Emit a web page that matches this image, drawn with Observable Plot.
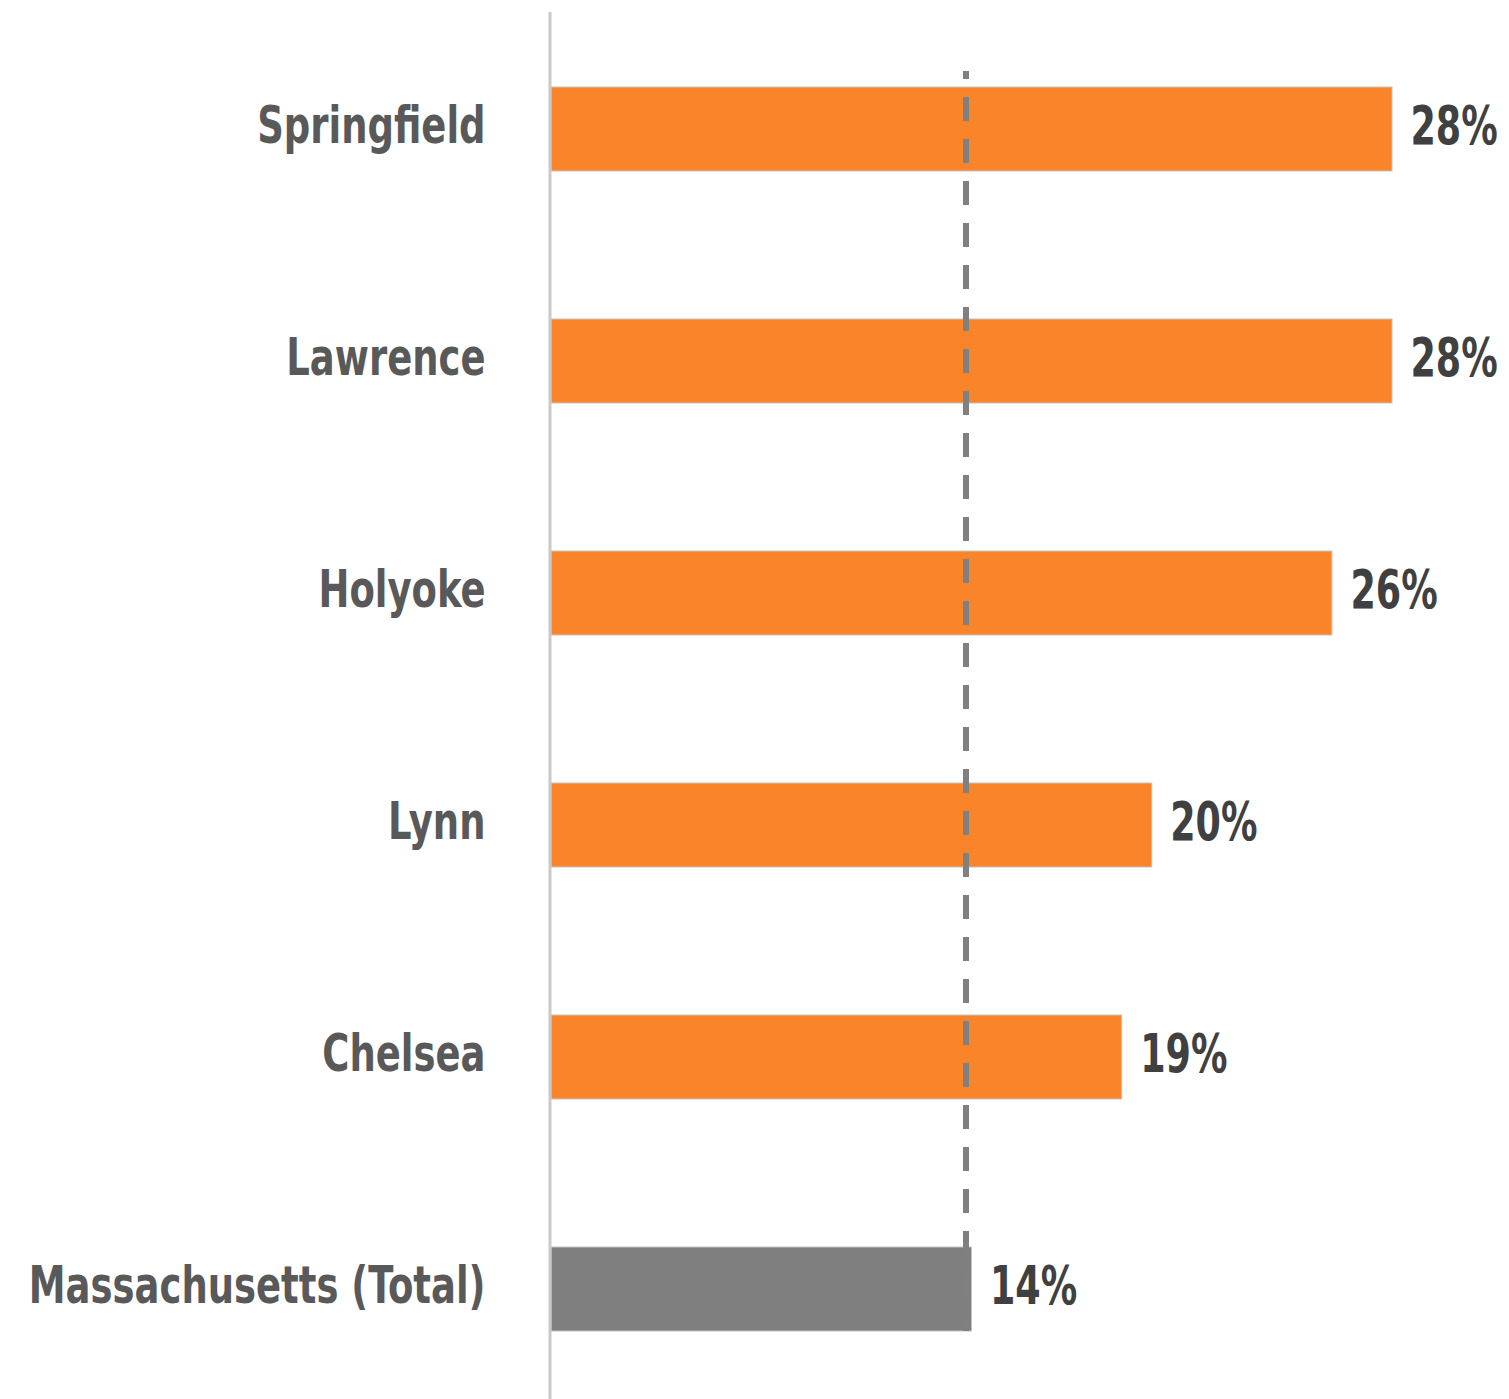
<!DOCTYPE html>
<html>
<head>
<meta charset="utf-8">
<script src="https://cdn.jsdelivr.net/npm/d3@7"></script>
<script src="https://cdn.jsdelivr.net/npm/@observablehq/plot@0.6"></script>
<style>
  html, body { margin: 0; padding: 0; background: #fff; }
  #chart svg { display: block; }
</style>
</head>
<body>
<div id="chart"></div>
<script>
const cities = ["Springfield", "Lawrence", "Holyoke", "Lynn", "Chelsea", "Massachusetts (Total)"];
const values = [28, 28, 26, 20, 19, 14];
const stateLine = [13.8];
const totalLabel = "Massachusetts (Total)";

const data = cities.map((c, i) => ({city: c, value: values[i]}));

const font = "'DejaVu Sans Condensed', 'Liberation Sans Narrow', sans-serif";

const chart = Plot.plot({
  width: 1509,
  height: 1399,
  marginLeft: 551,
  marginRight: 117,
  marginTop: 87,
  marginBottom: 68,
  style: {fontFamily: font, fontWeight: "bold", background: "#fff"},
  x: {domain: [0, 28], axis: null},
  y: {domain: cities, paddingInner: 0.638, paddingOuter: 0, label: null},
  marks: [
    Plot.barX(data, {
      x: "value",
      y: "city",
      fill: d => d.city === totalLabel ? "#7f7f7f" : "#f98429",
      stroke: "#c4c4c4",
      strokeWidth: 1
    }),
    Plot.ruleX([0], {
      stroke: "#c9c9c9",
      strokeWidth: 3,
      dx: -1.5,
      insetTop: -75,
      insetBottom: -68
    }),
    Plot.ruleX(stateLine, {
      stroke: "#808080",
      strokeWidth: 6,
      strokeDasharray: "24,18",
      strokeDashoffset: 16,
      insetTop: -16,
      insetBottom: 0
    }),
    Plot.text(data, {
      x: "value",
      y: "city",
      text: d => d.value + "%",
      textAnchor: "start",
      dx: 18,
      dy: -3,
      fontSize: 54,
      fontWeight: "bold",
      fill: "#404040",
      className: "value-label"
    }),
    Plot.axisY({
      tickSize: 0,
      tickPadding: 66,
      fontSize: 52,
      fontWeight: "bold",
      fill: "#595959",
      dy: -3,
      label: null
    })
  ]
});
document.getElementById("chart").appendChild(chart);

// condense the glyphs horizontally to mimic the reference's narrow typeface
chart.querySelectorAll("text").forEach(t => {
  const w = t.getComputedTextLength();
  if (w > 0) {
    const isValue = t.closest(".value-label") !== null;
    const k = isValue ? 0.75 : 0.79;
    t.setAttribute("textLength", (w * k).toFixed(1));
    t.setAttribute("lengthAdjust", "spacingAndGlyphs");
  }
});
</script>
</body>
</html>
